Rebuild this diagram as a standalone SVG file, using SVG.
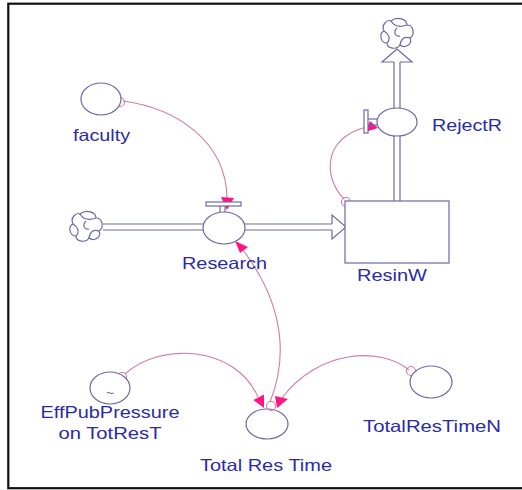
<svg xmlns="http://www.w3.org/2000/svg" width="522" height="490" viewBox="0 0 522 490">
<style>
.shape{fill:#fff;stroke:#6a6aa8;stroke-width:1.2}
.pipe{fill:none;stroke:#6a6aa8;stroke-width:1.2}
.conn{fill:none;stroke:#d27aa8;stroke-width:1.1}
.ring{fill:none;stroke:#d27aa8;stroke-width:1.1}
.head{fill:#ff1483;stroke:none}
.lbl{font-family:"Liberation Sans",Arial,sans-serif;font-size:16.5px;fill:#2b2ba6;text-anchor:middle}
</style>
<defs>
<g id="cloud">
<path class="shape" d="M-6,-13 C0,-18 10,-15 10,-9 C17,-9 18,1 13,4 C16,10 8,15 3,11 C0,16 -10,15 -10,9 C-17,9 -18,-1 -13,-3 C-16,-9 -10,-15 -6,-13 Z"/>
<path class="pipe" d="M-6,-13 C-3,-8 2,-6 10,-9 M13,4 C7,2 4,5 3,11 M-10,9 C-6,5 -8,0 -13,-3 M0,-6 C-4,-2 -2,3 3,2"/>
</g>
</defs>
<rect x="8.3" y="3.7" width="530" height="484.5" fill="#fff" stroke="#111" stroke-width="2.2"/>

<g id="connectors">
<path class="conn" d="M123,101 C175,108 226,140 227,198"/>
<path class="conn" d="M344,199 C325,180 320,140 366,127"/>
<path class="conn" d="M270,402 C283,370 292,315 243,250"/>
<path class="conn" d="M125,374 C160,342 235,345 258,397"/>
<path class="conn" d="M409,370 C380,346 318,350 282,398"/>
<circle class="ring" cx="120" cy="102" r="4.5"/>
<circle class="ring" cx="346" cy="202" r="4.5"/>
<circle class="ring" cx="122" cy="377" r="4.5"/>
<circle class="ring" cx="411" cy="371" r="4.5"/>
<polygon class="head" points="221,197 234,198 227,210"/>
<polygon class="head" points="370,121 365,132 378,128"/>
<polygon class="head" points="235,241 248,247 240,253"/>
<polygon class="head" points="264,408 264,394.6 253.3,400"/>
<polygon class="head" points="277,408 275,396 288,399"/>
</g>

<g id="inflow">
<use href="#cloud" x="86" y="227"/>
<line class="pipe" x1="103" y1="224" x2="332" y2="224"/>
<line class="pipe" x1="103" y1="230" x2="332" y2="230"/>
<path class="shape" d="M332,224 L332,215 L346,227 L332,239 L332,230"/>
</g>

<g id="outflow">
<use href="#cloud" x="397" y="34"/>
<line class="pipe" x1="394" y1="201" x2="394" y2="62"/>
<line class="pipe" x1="400" y1="201" x2="400" y2="62"/>
<path class="shape" d="M394,62 L382,62 L397,49 L412,62 L400,62"/>
</g>

<g id="ResinW">
<rect class="shape" x="345" y="201" width="104" height="62"/>
<text class="lbl" x="392" y="281" textLength="70" lengthAdjust="spacingAndGlyphs">ResinW</text>
</g>

<g id="Research">
<rect class="shape" x="206" y="202" width="35" height="4"/>
<line class="pipe" x1="220" y1="206" x2="220" y2="213"/>
<line class="pipe" x1="225" y1="206" x2="225" y2="213"/>
<ellipse class="shape" cx="224" cy="228" rx="21" ry="16"/>
<text class="lbl" x="224.5" y="269" textLength="85" lengthAdjust="spacingAndGlyphs">Research</text>
</g>

<g id="RejectR">
<rect class="shape" x="364" y="110" width="4" height="23"/>
<line class="pipe" x1="368" y1="119" x2="379" y2="119"/>
<line class="pipe" x1="368" y1="125" x2="379" y2="125"/>
<ellipse class="shape" cx="397" cy="122" rx="20" ry="14"/>
<text class="lbl" x="467" y="131" textLength="70" lengthAdjust="spacingAndGlyphs">RejectR</text>
</g>

<g id="faculty">
<ellipse class="shape" cx="101" cy="99" rx="20" ry="16"/>
<text class="lbl" x="101.5" y="141" textLength="57" lengthAdjust="spacingAndGlyphs">faculty</text>
</g>

<g id="EffPubPressure">
<ellipse class="shape" cx="110" cy="388" rx="20" ry="16"/>
<text x="110" y="398" text-anchor="middle" font-family="Liberation Sans, sans-serif" font-size="14" fill="#6a6aa8">~</text>
<text class="lbl" x="110" y="418" textLength="139" lengthAdjust="spacingAndGlyphs">EffPubPressure</text>
<text class="lbl" x="110" y="439" textLength="103" lengthAdjust="spacingAndGlyphs">on TotResT</text>
</g>

<g id="TotalResTime">
<ellipse class="shape" cx="267" cy="424" rx="21" ry="15"/>
<circle class="ring" cx="271" cy="406" r="4.5"/>
<text class="lbl" x="266" y="471" textLength="132" lengthAdjust="spacingAndGlyphs">Total Res Time</text>
</g>

<g id="TotalResTimeN">
<ellipse class="shape" cx="431" cy="382" rx="21" ry="16"/>
<text class="lbl" x="432" y="432" textLength="138" lengthAdjust="spacingAndGlyphs">TotalResTimeN</text>
</g>
</svg>
